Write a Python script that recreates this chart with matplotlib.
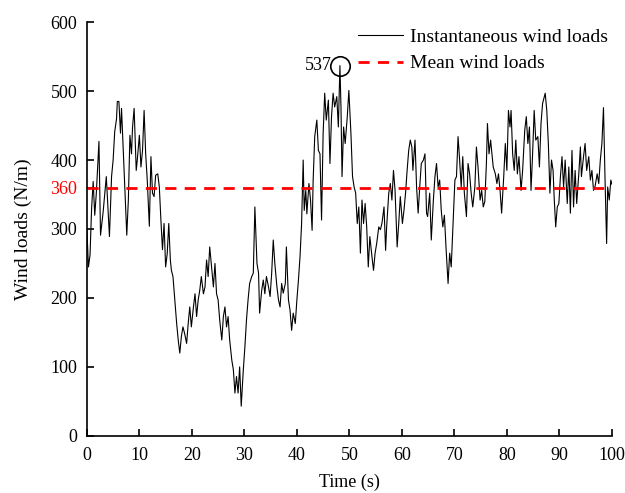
import matplotlib
matplotlib.use("Agg")
import matplotlib.pyplot as plt

plt.rcParams["font.family"] = ["Liberation Serif", "DejaVu Serif"]
plt.rcParams["font.size"] = 13

# time (s) / wind load (N/m), in 10 s pieces
t_00 = [0.0, 0.3, 0.6, 0.9, 1.2, 1.5, 1.8, 2.3, 2.6, 3.1, 3.7, 4.3, 4.7, 5.0, 5.3,
        5.65, 5.8, 6.1, 6.4, 6.6, 6.9, 7.2, 7.6, 7.9, 8.2, 8.5, 8.7, 9.0, 9.4, 9.6]
v_00 = [300, 245, 262, 330, 369, 320, 352, 427, 291, 325, 376, 289, 376, 400, 441,
        460, 485, 485, 439, 475, 419, 361, 291, 342, 436, 409, 448, 475, 385, 400]

t_10 = [10.0, 10.3, 10.6, 10.9, 11.2, 11.5, 11.9, 12.2, 12.5, 12.8, 13.1, 13.5, 13.8,
        14.1, 14.4, 14.7, 15.0, 15.3, 15.6, 15.9, 16.1, 16.4, 16.7, 17.1, 17.4, 17.7,
        18.0, 18.3, 18.6, 19.0, 19.3, 19.6]
v_10 = [436, 390, 414, 472, 409, 371, 304, 405, 352, 347, 378, 380, 361,
        313, 270, 308, 245, 264, 308, 255, 240, 231, 202, 163, 139, 120,
        144, 158, 149, 134, 163, 187]

t_20 = [19.9, 20.3, 20.6, 20.9, 21.2, 21.5, 21.8, 22.2, 22.5, 22.8, 23.1, 23.4, 23.8,
        24.1, 24.4, 24.7, 25.0, 25.3, 25.7, 26.0, 26.3, 26.6, 26.9, 27.2, 27.6, 27.9,
        28.2, 28.5, 28.8, 29.1, 29.4, 29.8]
v_20 = [158, 187, 206, 173, 197, 211, 231, 206, 216, 255, 231, 274, 240,
        216, 250, 206, 197, 168, 139, 173, 187, 158, 173, 139, 110, 96,
        62, 86, 62, 100, 43, 96]

t_30 = [30.1, 30.4, 30.7, 31.0, 31.4, 31.7, 32.0, 32.2, 32.4, 32.7, 32.9, 33.3, 33.6,
        33.9, 34.2, 34.6, 34.9, 35.2, 35.5, 35.8, 36.2, 36.5, 36.8, 37.1, 37.4, 37.8,
        38.0, 38.4, 38.7, 39.0, 39.3, 39.7]
v_30 = [129, 168, 197, 221, 231, 236, 332, 289, 250, 236, 178, 211, 226,
        206, 231, 216, 202, 236, 284, 250, 216, 197, 187, 221, 207, 221,
        274, 197, 182, 153, 178, 163]

t_40 = [40.0, 40.3, 40.6, 40.9, 41.2, 41.4, 41.7, 41.9, 42.3, 42.6, 42.9, 43.1, 43.4,
        43.8, 44.1, 44.4, 44.7, 45.0, 45.3, 45.6, 46.0, 46.3, 46.6, 46.9, 47.2, 47.6,
        47.9, 48.2, 48.4, 48.6, 48.9, 49.2, 49.6, 49.9]
v_40 = [197, 226, 260, 308, 400, 327, 356, 322, 366, 342, 298, 371, 434,
        458, 414, 409, 313, 438, 497, 458, 487, 395, 463, 497, 477, 492,
        448, 537, 477, 376, 448, 424, 463, 501]

t_50 = [50.3, 50.6, 50.9, 51.2, 51.5, 51.8, 52.1, 52.4, 52.7, 53.0, 53.3, 53.6, 53.9,
        54.3, 54.6, 54.9, 55.2, 55.6, 55.9, 56.2, 56.6, 56.9, 57.1, 57.5, 57.8, 58.1,
        58.4, 58.7, 59.1, 59.4, 59.7]
v_50 = [438, 376, 361, 352, 308, 332, 265, 342, 308, 337, 303, 245, 289,
        260, 240, 265, 279, 303, 299, 308, 332, 269, 303, 352, 366, 342,
        385, 356, 274, 308, 347]

t_60 = [60.1, 60.4, 60.7, 61.0, 61.3, 61.6, 61.9, 62.1, 62.5, 62.8, 63.1, 63.4, 63.7,
        64.1, 64.4, 64.7, 64.9, 65.3, 65.6, 66.0, 66.3, 66.6, 66.9, 67.2, 67.5, 67.8,
        68.1, 68.4, 68.8, 69.1, 69.4, 69.8]
v_60 = [308, 327, 352, 385, 414, 429, 419, 385, 429, 361, 323, 361, 395,
        400, 409, 323, 318, 352, 284, 342, 376, 395, 361, 371, 327, 303,
        320, 274, 221, 265, 245, 318]

t_70 = [70.1, 70.4, 70.7, 71.0, 71.3, 71.6, 71.9, 72.3, 72.6, 72.9, 73.2, 73.5, 73.9,
        74.2, 74.5, 74.9, 75.2, 75.5, 75.8, 76.1, 76.3, 76.6, 76.9, 77.2, 77.4, 77.8,
        78.1, 78.4, 78.7, 79.0, 79.4, 79.7]
v_70 = [371, 376, 434, 400, 361, 405, 352, 318, 395, 380, 352, 332, 361,
        419, 390, 342, 356, 332, 340, 395, 453, 409, 429, 405, 390, 380,
        366, 380, 356, 323, 376, 424]

t_80 = [80.0, 80.3, 80.6, 80.8, 81.1, 81.4, 81.7, 82.0, 82.3, 82.7, 83.0, 83.4, 83.7,
        84.0, 84.3, 84.6, 84.9, 85.2, 85.5, 85.9, 86.2, 86.5, 86.8, 87.3, 87.6, 87.9,
        88.2, 88.5, 88.8, 89.0, 89.3, 89.6, 89.9]
v_80 = [385, 472, 448, 472, 409, 385, 429, 380, 405, 356, 385, 443, 463,
        424, 448, 356, 409, 472, 429, 434, 390, 453, 482, 497, 472, 424,
        352, 400, 385, 347, 303, 332, 337]

t_90 = [90.2, 90.5, 90.8, 91.1, 91.5, 91.8, 92.1, 92.4, 92.7, 93.0, 93.3, 93.7, 94.0,
        94.2, 94.6, 94.9, 95.2, 95.6, 95.9, 96.2, 96.5, 96.8, 97.2, 97.5, 97.8, 98.1,
        98.4, 98.7, 99.0, 99.2, 99.5, 99.8, 100.0]
v_90 = [376, 405, 361, 400, 337, 390, 323, 414, 332, 385, 337, 380, 419,
        376, 405, 424, 385, 405, 371, 385, 356, 362, 380, 366, 400, 424,
        476, 371, 279, 361, 342, 371, 365]

mean_load = 360
peak_t, peak_load = 48.2, 537

t = t_00 + t_10 + t_20 + t_30 + t_40 + t_50 + t_60 + t_70 + t_80 + t_90
load = v_00 + v_10 + v_20 + v_30 + v_40 + v_50 + v_60 + v_70 + v_80 + v_90

fig = plt.figure(figsize=(6.25, 4.93), dpi=100)
ax = fig.add_axes([0.139, 0.116, 0.84, 0.839])

ax.plot(t, load, color="black", lw=0.8, label="Instantaneous wind loads")
ax.axhline(mean_load, color="red", lw=2, ls=(0, (4, 3)), label="Mean wind loads")

# circle + label on the peak
ax.plot(peak_t, peak_load, "o", ms=14, mfc="none", mec="black", mew=1.2)
ax.text(peak_t - 1.6, peak_load, str(peak_load), ha="right", va="center")

ax.set_xlim(0, 100)
ax.set_ylim(0, 600)
ax.set_xticks(range(0, 101, 10))
ax.set_yticks([0, 100, 200, 300, mean_load, 400, 500, 600])
for lab in ax.get_yticklabels():
    if lab.get_text() == str(mean_load):
        lab.set_color("red")

ax.tick_params(direction="in", length=5, width=1.2)
ax.tick_params(axis="y", pad=7)
ax.tick_params(axis="x", pad=8)
for side in ["top", "right"]:
    ax.spines[side].set_visible(False)
for side in ["left", "bottom"]:
    ax.spines[side].set_linewidth(1.2)

ax.set_xlabel("Time (s)", labelpad=7)
ax.set_ylabel("Wind loads (N/m)", fontsize=14, labelpad=13)
ax.legend(loc="upper right", frameon=False, fontsize=14, handlelength=2.3,
          handletextpad=0.35, borderpad=0, borderaxespad=0, labelspacing=0.45,
          bbox_to_anchor=(0.992, 0.985))

fig.savefig("out.png", dpi=100)
